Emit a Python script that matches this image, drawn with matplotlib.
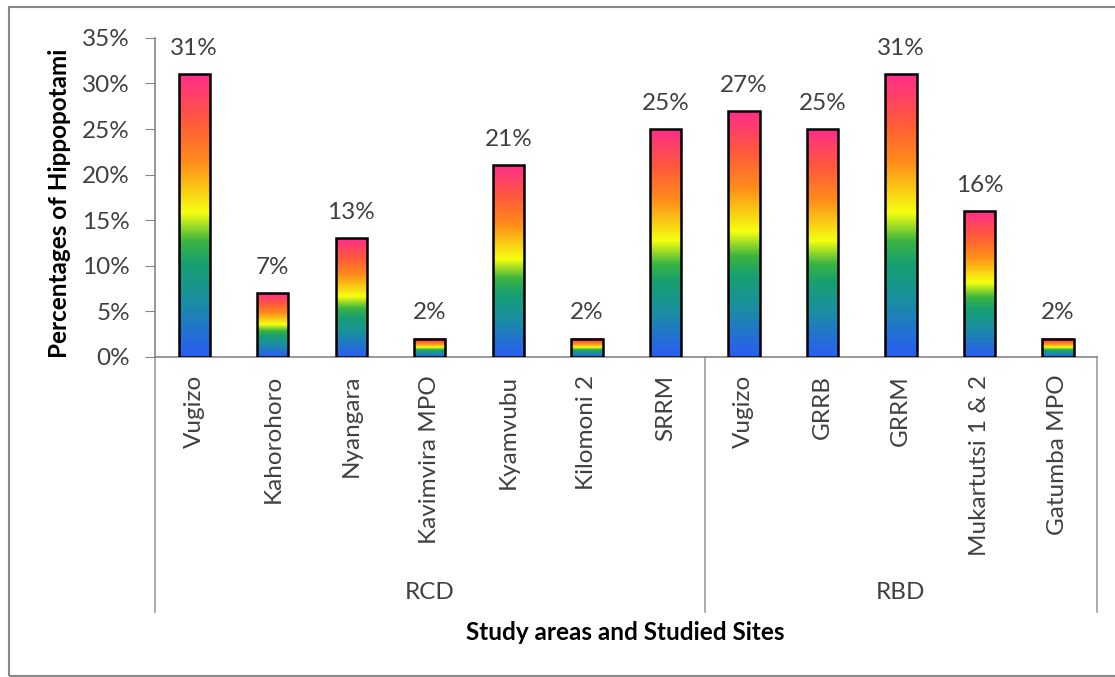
import numpy as np
import matplotlib
matplotlib.use("Agg")
import matplotlib.pyplot as plt
from matplotlib.colors import LinearSegmentedColormap
from matplotlib.ticker import PercentFormatter
from matplotlib.patches import Rectangle

# Data
sites = ["Vugizo", "Kahorohoro", "Nyangara", "Kavimvira MPO", "Kyamvubu",
         "Kilomoni 2", "SRRM", "Vugizo", "GRRB", "GRRM", "Mukartutsi 1 & 2",
         "Gatumba MPO"]
values = [31, 7, 13, 2, 21, 2, 25, 27, 25, 31, 16, 2]
groups = ["RCD", "RBD"]
group_sizes = [7, 5]

plt.rcParams['font.family'] = ['Lato', 'DejaVu Sans']
FS = 17.5
TXT = "#404040"

rainbow = LinearSegmentedColormap.from_list("rainbow_bar", [
    (0.0, "#2a5cf5"), (0.2, "#1a8fa0"), (0.33, "#17a070"), (0.41, "#3cb440"),
    (0.51, "#f5ff10"), (0.69, "#ff8c1a"), (0.83, "#ff5a3a"), (1.0, "#ff2d8a")])

fig = plt.figure(figsize=(11.15, 6.77), dpi=100)
ax = fig.add_axes([0.139, 0.473, 0.845, 0.471])

x = np.arange(len(sites))
width = 0.4
grad = np.linspace(0, 1, 256).reshape(-1, 1)

bars = ax.bar(x, values, width=width, facecolor="none", edgecolor="black",
              linewidth=1.8, zorder=3)
for b, v in zip(bars, values):
    x0 = b.get_x()
    ax.imshow(grad, cmap=rainbow, origin="lower", aspect="auto",
              extent=(x0, x0 + width, 0, v), zorder=2)
    ax.annotate(f"{v}%", (x0 + width / 2, v), xytext=(0, 11),
                textcoords="offset points", ha="center", va="bottom",
                fontsize=FS, color=TXT)

ax.set_xlim(-0.5, len(sites) - 0.5)
ax.set_ylim(0, 35)
ax.set_yticks(np.arange(0, 36, 5))
ax.yaxis.set_major_formatter(PercentFormatter(decimals=0))
ax.tick_params(axis="y", length=7, color="#868686", labelsize=FS,
               labelcolor=TXT, pad=11)
ax.set_xticks(x)
ax.set_xticklabels(sites, rotation=90, fontsize=FS, color=TXT)
ax.tick_params(axis="x", length=0, pad=13)

for s in ["top", "right"]:
    ax.spines[s].set_visible(False)
for s in ["left", "bottom"]:
    ax.spines[s].set_color("#868686")
    ax.spines[s].set_linewidth(1.2)

# group separators and names below the axis
trans = ax.get_xaxis_transform()
edges = np.concatenate([[0], np.cumsum(group_sizes)]) - 0.5
for e in edges:
    ax.plot([e, e], [0, -0.8], transform=trans, color="#a0a0a0", lw=1.2,
            clip_on=False)
for g, a, b in zip(groups, edges[:-1], edges[1:]):
    ax.text((a + b) / 2, -0.74, g, transform=trans, ha="center", va="center",
            fontsize=FS, color=TXT)

fig.text(0.053, 0.70, "Percentages of Hippopotami", rotation=90,
         ha="center", va="center", fontsize=FS, fontweight="bold")
fig.text(0.5605, 0.066, "Study areas and Studied Sites", ha="center",
         va="center", fontsize=FS, fontweight="bold")

# outer chart border
fig.add_artist(Rectangle((0.008, 0.001), 1.2, 0.988, transform=fig.transFigure,
                         fill=False, edgecolor="#888888", lw=1.5))

fig.savefig("out.png", dpi=100)
